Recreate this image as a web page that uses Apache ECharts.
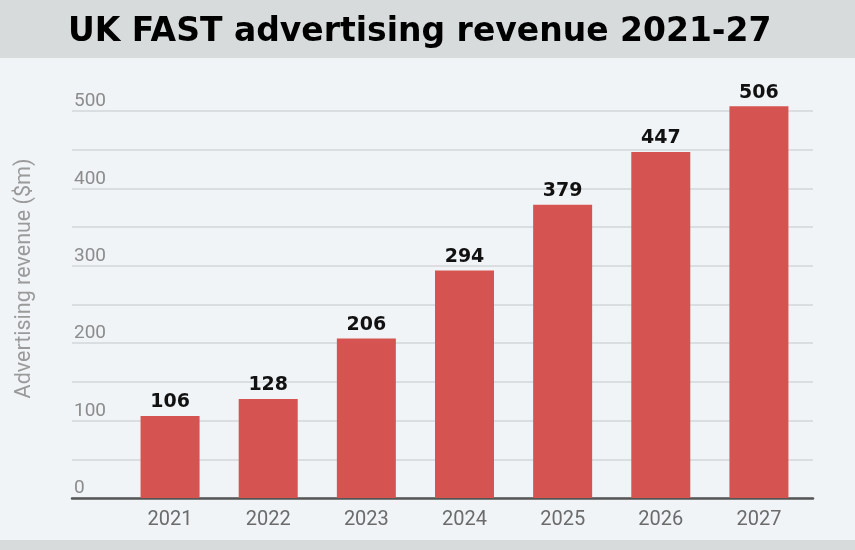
<!DOCTYPE html>
<html>
<head>
<meta charset="utf-8">
<script src="https://cdn.jsdelivr.net/npm/echarts@6/dist/echarts.min.js"></script>
<style>
  html, body { margin: 0; padding: 0; }
  #chart {
    width: 855px; height: 550px;
    background: linear-gradient(to bottom, #d8dbdc 0px, #d8dbdc 58px, #f0f4f7 58px, #f0f4f7 540px, #d8dbdc 540px);
  }
</style>
</head>
<body>
<div id="chart"></div>
<script>
const titleText = 'UK FAST advertising revenue 2021-27';
const yAxisName = 'Advertising revenue ($m)';
const years = ['2021', '2022', '2023', '2024', '2025', '2026', '2027'];
const revenue = [106, 128, 206, 294, 379, 447, 506];
const yTickLabels = ['0', '100', '200', '300', '400', '500'];

const chart = echarts.init(document.getElementById('chart'));
chart.setOption({
  animation: false,
  title: {
    text: titleText,
    left: 63,
    top: 11,
    textStyle: { fontFamily: 'DejaVu Sans', fontWeight: 'bold', fontSize: 33, color: '#000' }
  },
  grid: [
    { left: 72, right: 42, top: 111, bottom: 52 },
    { left: 121, right: 47, top: 111, bottom: 52 }
  ],
  xAxis: [
    {
      gridIndex: 0, type: 'value', min: 0, max: 1,
      axisLine: { show: true, onZero: false, lineStyle: { color: '#555', width: 2.5 } },
      axisTick: { show: false }, axisLabel: { show: false }, splitLine: { show: false }
    },
    {
      gridIndex: 1, type: 'category', data: years,
      axisLine: { show: false }, axisTick: { show: false },
      axisLabel: { fontFamily: 'Roboto', fontSize: 20, color: '#6b6b6b', margin: 12 }
    }
  ],
  yAxis: [
    {
      gridIndex: 0, type: 'value', min: 0, max: 500, interval: 50,
      name: yAxisName, nameLocation: 'middle', nameGap: 36, nameRotate: 90,
      nameTextStyle: { fontFamily: 'Roboto', fontSize: 21.5, color: '#9a9a9a', padding: [0, 0, 0, 52] },
      axisLine: { show: false }, axisTick: { show: false },
      axisLabel: {
        inside: true, margin: 2, verticalAlign: 'bottom',
        fontFamily: 'Roboto', fontSize: 19, color: '#8c8c8c', padding: [0, 0, 0, 0],
        formatter: v => (yTickLabels.includes(String(v)) ? String(v) : '')
      },
      splitLine: { show: true, lineStyle: { color: '#d3d7da', width: 1.5 } }
    },
    {
      gridIndex: 1, type: 'value', min: 0, max: 500, show: false, splitLine: { show: false }
    }
  ],
  series: [{
    type: 'bar', xAxisIndex: 1, yAxisIndex: 1, data: revenue,
    barWidth: 59, clip: false,
    itemStyle: { color: '#d55350' },
    label: {
      show: true, position: 'top', distance: 4,
      fontFamily: 'DejaVu Sans', fontWeight: 'bold', fontSize: 19, color: '#111'
    }
  }]
});
</script>
</body>
</html>
